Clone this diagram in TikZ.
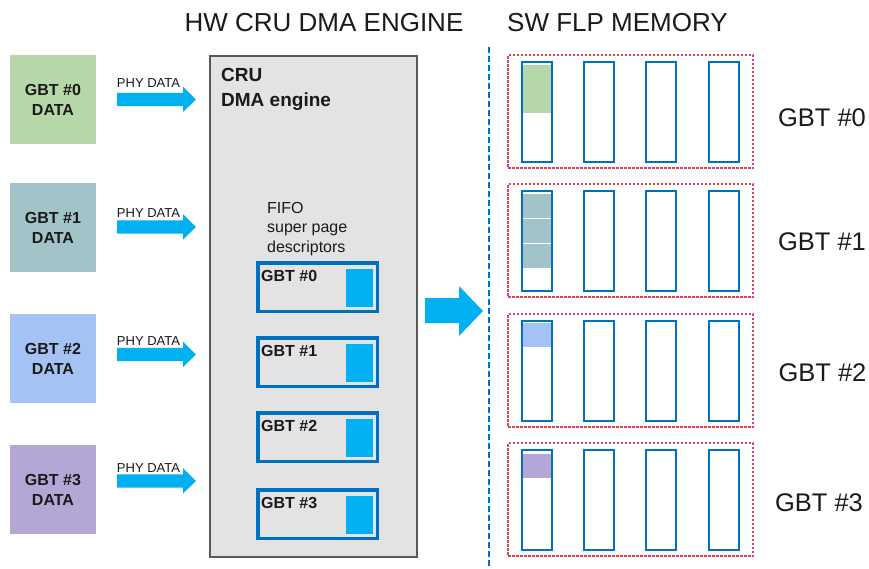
\documentclass[tikz,border=0pt]{standalone}
\usepackage{fontspec}
\setmainfont{Liberation Sans}
\definecolor{gbtA}{HTML}{B6D7A8}
\definecolor{gbtB}{HTML}{A2C4C9}
\definecolor{gbtC}{HTML}{A4C2F4}
\definecolor{gbtD}{HTML}{B4A7D6}
\definecolor{cyanA}{HTML}{00B0F0}
\definecolor{dblue}{HTML}{0070C0}
\definecolor{grayfill}{HTML}{E3E3E3}
\definecolor{bord}{HTML}{595959}
\definecolor{redD}{HTML}{E0405A}
\definecolor{txt}{HTML}{1A1A1A}
\begin{document}
\begin{tikzpicture}[x=1pt,y=-1pt,
  gbtbox/.style={minimum width=86, minimum height=89, inner sep=0, align=center,
    font=\bfseries\fontsize{16}{20}\selectfont, text=txt},
  phylabel/.style={font=\fontsize{13}{15}\selectfont, text=txt, anchor=base, inner sep=0},
  fifobox/.style={draw=dblue, line width=3.5, minimum width=119.5, minimum height=48.5, inner sep=0},
  fifolabel/.style={font=\bfseries\fontsize{16}{19}\selectfont, text=txt, anchor=base west, inner sep=0},
  slot/.style={fill=cyanA, minimum width=27, minimum height=38, inner sep=0},
  colbox/.style={draw=dblue, line width=2, fill=white, minimum width=30, minimum height=100, inner sep=0},
  grpbox/.style={draw=redD, line width=1.2, dash pattern=on 2.5 off 1.5, minimum width=245, minimum height=113, inner sep=0},
  rlabel/.style={font=\fontsize{25.5}{28}\selectfont, text=txt, anchor=base, inner sep=0},
  title/.style={font=\fontsize{26}{30}\selectfont, text=txt, anchor=base, inner sep=0},
  plain/.style={font=\fontsize{16}{19}\selectfont, text=txt, anchor=base west, inner sep=0},
  crutext/.style={font=\bfseries\fontsize{19}{24}\selectfont, text=txt, anchor=base west, inner sep=0}
]
\useasboundingbox (0,0) rectangle (869,568);
\fill[white] (0,0) rectangle (869,568);

% titles
\node[title] (t1) at (324,31.5) {HW CRU DMA ENGINE};
\node[title] (t2) at (617.5,31.5) {SW FLP MEMORY};

% left GBT data boxes
\node[gbtbox, fill=gbtA] (g0) at (53,99.5) {GBT \#0\\DATA};
\node[gbtbox, fill=gbtB] (g1) at (53,227.5) {GBT \#1\\DATA};
\node[gbtbox, fill=gbtC] (g2) at (53,358.5) {GBT \#2\\DATA};
\node[gbtbox, fill=gbtD] (g3) at (53,489.5) {GBT \#3\\DATA};

% PHY DATA arrows
\foreach \i/\yc/\yl in {0/99.5/87.7,1/227/217.7,2/354.5/345,3/481/472.7}{
  \fill[cyanA] (117,\yc-6.7) -- (183,\yc-6.7) -- (183,\yc-13) -- (196,\yc)
     -- (183,\yc+12.5) -- (183,\yc+6.7) -- (117,\yc+6.7) -- cycle;
  \node[phylabel] (phy\i) at (148.5,\yl) {PHY DATA};
}

% CRU DMA engine box
\node[draw=bord, fill=grayfill, line width=1.5, minimum width=207, minimum height=501,
  anchor=north west, inner sep=0] (cru) at (209,55) {};
\node[crutext] (cru1) at (221,81.7) {CRU};
\node[crutext] (cru2) at (221,106.7) {DMA engine};

\node[plain] (fifo1) at (267,213.3) {FIFO};
\node[plain] (fifo2) at (267,232.8) {super page};
\node[plain] (fifo3) at (267,252.3) {descriptors};

\foreach \i/\top in {0/261,1/336,2/411,3/488}{
  \node[fifobox] (f\i) at (317.5,\top+26) {};
  \node[slot] (s\i) at (359.5,\top+27) {};
  \node[fifolabel] (fl\i) at (261,\top+20) {GBT \#\i};
}

% big arrow
\fill[cyanA] (425,298) -- (459,298) -- (459,286) -- (483,311) -- (459,336) -- (459,323) -- (425,323) -- cycle;

% dashed separator
\coordinate (dtop) at (489,47);
\coordinate (dbot) at (489,568);
\draw[dblue, line width=2, dash pattern=on 6 off 3] (dtop) -- (dbot);

% memory groups
\foreach \i/\top in {0/55,1/184,2/314,3/443}{
  \node[grpbox] (grp\i) at (630.5,\top+56.5) {};
  \foreach \j/\cx in {0/536.5,1/599,2/661,3/724}{
    \node[colbox] (c\i\j) at (\cx,\top+57) {};
  }
}
% filled pages
\fill[gbtA] (523,65) rectangle (550.5,113);
\fill[gbtB] (523,194) rectangle (550.5,217.5);
\fill[gbtB] (523,218.5) rectangle (550.5,242.5);
\fill[gbtB] (523,243.5) rectangle (550.5,268);
\fill[gbtC] (523,323) rectangle (550.5,347);
\fill[gbtD] (523,454) rectangle (550.5,478);

% right labels
\node[rlabel] (r0) at (822,126.5) {GBT \#0};
\node[rlabel] (r1) at (822,250.5) {GBT \#1};
\node[rlabel] (r2) at (822.5,381) {GBT \#2};
\node[rlabel] (r3) at (819,511) {GBT \#3};
\end{tikzpicture}
\end{document}
